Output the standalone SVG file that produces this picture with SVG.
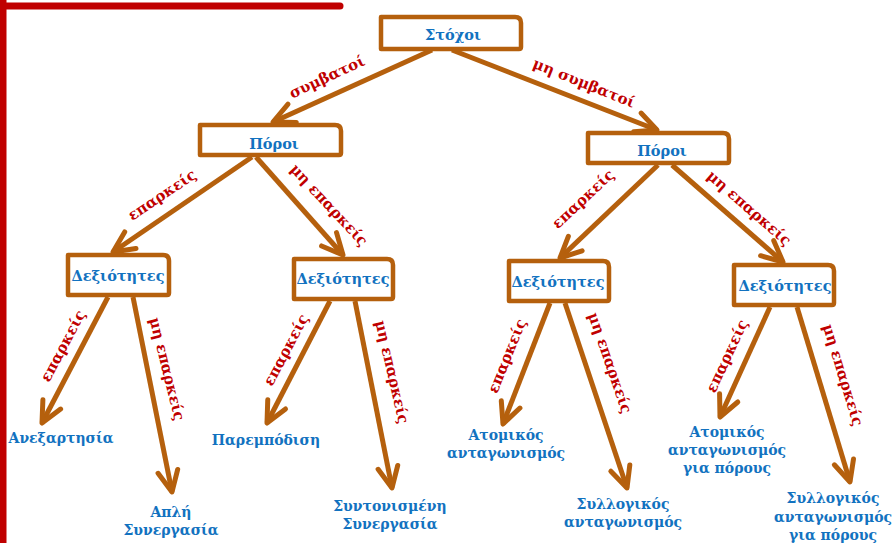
<svg xmlns="http://www.w3.org/2000/svg" width="895" height="543" viewBox="0 0 895 543">
<style>
.box{fill:#fff;stroke:#B5600D;stroke-width:4.5;stroke-linejoin:round}
.nt{font-family:"DejaVu Serif","Liberation Serif",serif;font-weight:bold;font-size:14.5px;fill:#1272C0;text-anchor:middle}
.lf{font-family:"DejaVu Serif","Liberation Serif",serif;font-weight:bold;font-size:14px;fill:#1272C0;text-anchor:middle}
.el{font-family:"DejaVu Serif","Liberation Serif",serif;font-weight:bold;font-size:15px;fill:#C00000;text-anchor:middle}
.cn{stroke:#B5600D;stroke-width:5;fill:none;marker-end:url(#ah)}
</style>
<defs>
<marker id="ah" markerUnits="userSpaceOnUse" orient="auto" refX="0" refY="0" markerWidth="30" markerHeight="30" overflow="visible">
<path d="M -21,-10 L 0,0 L -21,10" fill="none" stroke="#B5600D" stroke-width="5" stroke-linecap="round" stroke-linejoin="round"/>
</marker>
</defs>
<rect width="895" height="543" fill="#fff"/>
<g id="frame" stroke="#C00000" stroke-width="7" fill="none" stroke-linecap="round">
<line x1="3" y1="0" x2="3" y2="543" stroke-linecap="butt"/>
<line x1="0" y1="6" x2="340" y2="6"/>
</g>
<g id="connectors">
<line class="cn" x1="432" y1="50" x2="273" y2="122"/>
<line class="cn" x1="452" y1="50" x2="657" y2="130"/>
<line class="cn" x1="252" y1="157" x2="113" y2="252"/>
<line class="cn" x1="256" y1="157" x2="343" y2="255"/>
<line class="cn" x1="658" y1="165" x2="560" y2="258"/>
<line class="cn" x1="672" y1="165" x2="783" y2="262"/>
<line class="cn" x1="108" y1="297" x2="42" y2="423"/>
<line class="cn" x1="133" y1="297" x2="172" y2="492"/>
<line class="cn" x1="330" y1="301" x2="267" y2="423"/>
<line class="cn" x1="355" y1="301" x2="392" y2="488"/>
<line class="cn" x1="550" y1="303" x2="503" y2="424"/>
<line class="cn" x1="565" y1="303" x2="627" y2="488"/>
<line class="cn" x1="770" y1="307" x2="720" y2="417"/>
<line class="cn" x1="797" y1="307" x2="850" y2="482"/>
<text class="el" transform="translate(327,77) rotate(-25)" dy="5">συμβατοί</text>
<text class="el" transform="translate(584,83) rotate(22)" dy="5">μη συμβατοί</text>
<text class="el" transform="translate(162,195) rotate(-34)" dy="5">επαρκείς</text>
<text class="el" transform="translate(329,205) rotate(47)" dy="5">μη επαρκείς</text>
<text class="el" transform="translate(583,199) rotate(-43)" dy="5">επαρκείς</text>
<text class="el" transform="translate(749,208) rotate(41)" dy="5">μη επαρκείς</text>
<text class="el" transform="translate(63,346) rotate(-62)" dy="5">επαρκείς</text>
<text class="el" transform="translate(167,369) rotate(76)" dy="5">μη επαρκείς</text>
<text class="el" transform="translate(286,350) rotate(-62)" dy="5">επαρκείς</text>
<text class="el" transform="translate(392,372) rotate(77)" dy="5">μη επαρκείς</text>
<text class="el" transform="translate(507,356) rotate(-68)" dy="5">επαρκείς</text>
<text class="el" transform="translate(610,363) rotate(71)" dy="5">μη επαρκείς</text>
<text class="el" transform="translate(727,356) rotate(-65)" dy="5">επαρκείς</text>
<text class="el" transform="translate(843,375) rotate(73)" dy="5">μη επαρκείς</text>
</g>
<g id="n-stoxoi"><path class="box" d="M381 17 H515 Q521 17 521 23 V47 Q521 49 519 49 H381 Z"/><text class="nt" x="453" y="40">Στόχοι</text></g>
<g id="n-poroi-l"><path class="box" d="M200 125 H335 Q341 125 341 131 V153 Q341 155 339 155 H200 Z"/><text class="nt" x="274" y="149">Πόροι</text></g>
<g id="n-poroi-r"><path class="box" d="M588 133 H723 Q729 133 729 139 V161 Q729 163 727 163 H588 Z"/><text class="nt" x="662" y="156">Πόροι</text></g>
<g id="n-dex1"><path class="box" d="M68 255 H163 Q169 255 169 261 V293 Q169 295 167 295 H68 Z"/><text class="nt" x="118" y="281">Δεξιότητες</text></g>
<g id="n-dex2"><path class="box" d="M294 259 H387 Q393 259 393 265 V297 Q393 299 391 299 H294 Z"/><text class="nt" x="343" y="284">Δεξιότητες</text></g>
<g id="n-dex3"><path class="box" d="M509 261 H603 Q609 261 609 267 V299 Q609 301 607 301 H509 Z"/><text class="nt" x="558" y="287">Δεξιότητες</text></g>
<g id="n-dex4"><path class="box" d="M734 265 H828 Q834 265 834 271 V303 Q834 305 832 305 H734 Z"/><text class="nt" x="785" y="291">Δεξιότητες</text></g>
<g id="l-anex"><text class="lf" x="61" y="443">Ανεξαρτησία</text></g>
<g id="l-apli"><text class="lf" x="171" y="517">Απλή</text><text class="lf" x="171" y="535">Συνεργασία</text></g>
<g id="l-parem"><text class="lf" x="266" y="445">Παρεμπόδιση</text></g>
<g id="l-synton"><text class="lf" x="390" y="511">Συντονισμένη</text><text class="lf" x="390" y="529">Συνεργασία</text></g>
<g id="l-atom1"><text class="lf" x="506" y="440">Ατομικός</text><text class="lf" x="506" y="458">ανταγωνισμός</text></g>
<g id="l-syll1"><text class="lf" x="623" y="509">Συλλογικός</text><text class="lf" x="623" y="527">ανταγωνισμός</text></g>
<g id="l-atom2"><text class="lf" x="727" y="437">Ατομικός</text><text class="lf" x="727" y="455">ανταγωνισμός</text><text class="lf" x="727" y="473">για πόρους</text></g>
<g id="l-syll2"><text class="lf" x="833" y="503">Συλλογικός</text><text class="lf" x="833" y="522">ανταγωνισμός</text><text class="lf" x="833" y="540">για πόρους</text></g>
</svg>
